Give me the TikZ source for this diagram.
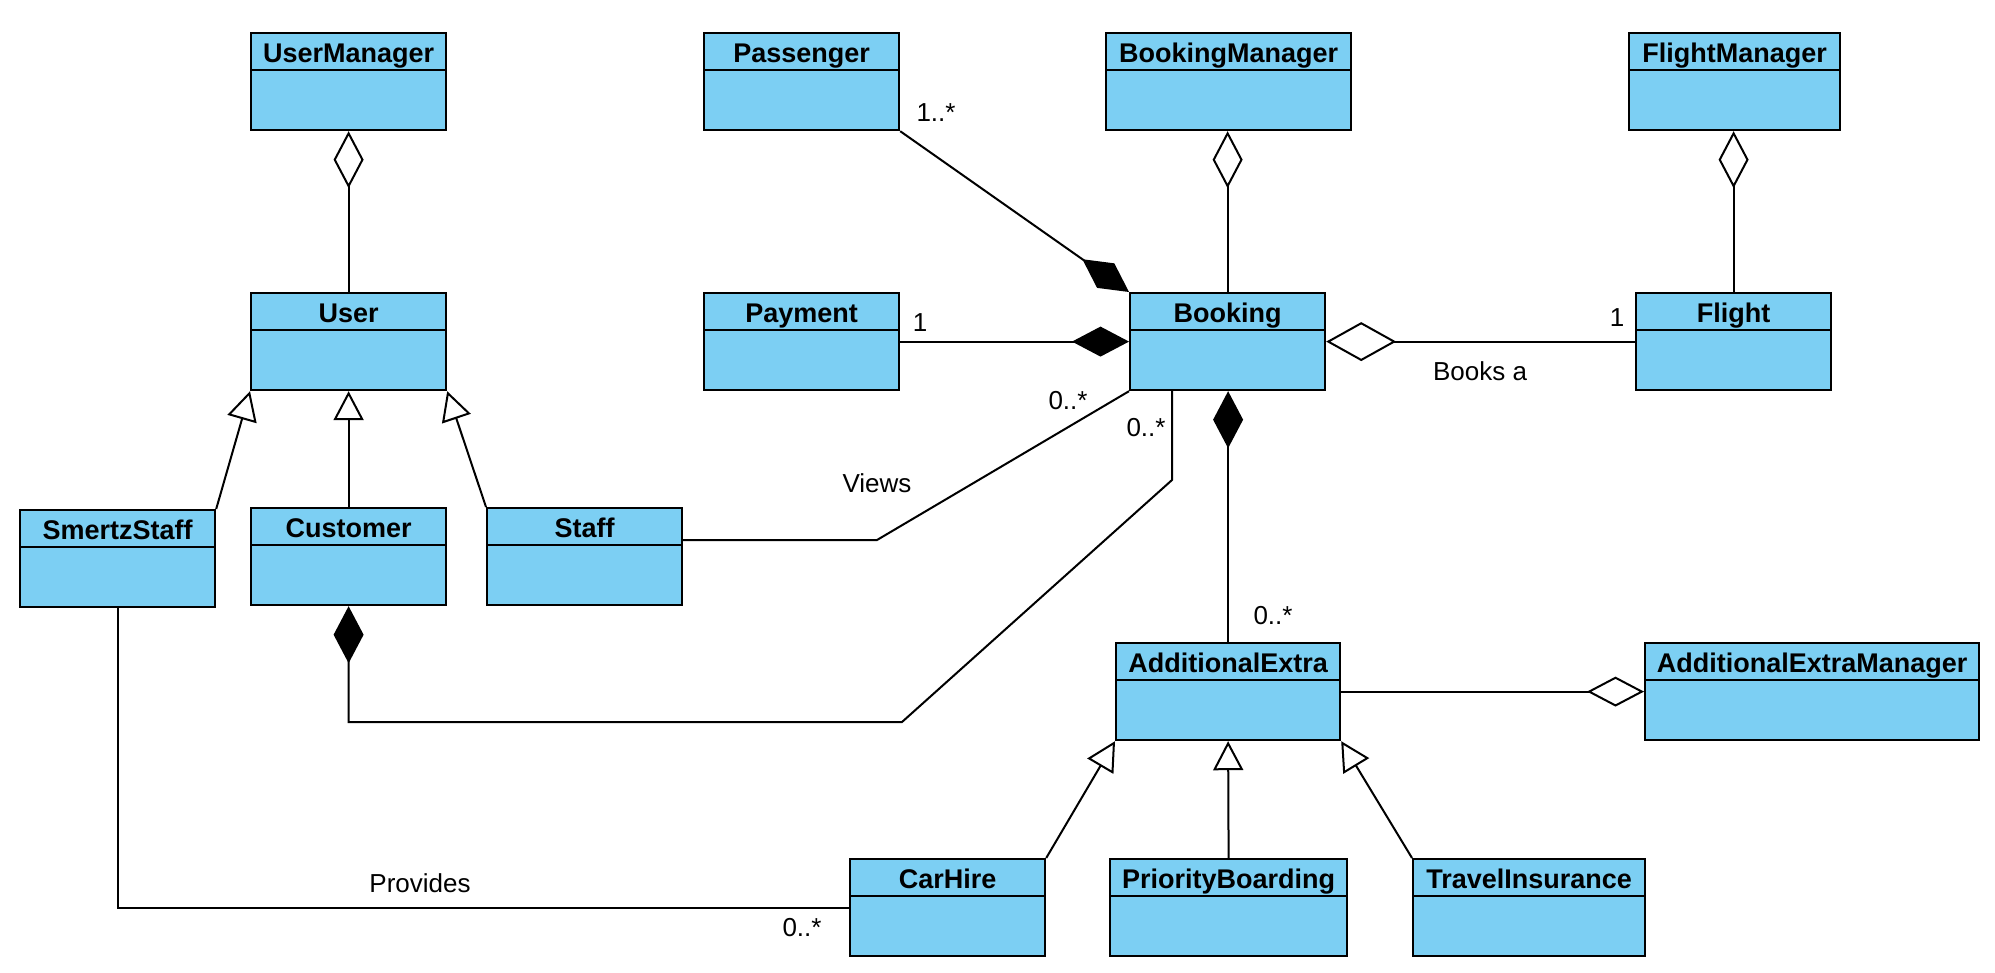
\documentclass[tikz,border=0pt]{standalone}
\usepackage{fontspec}
\setmainfont{Liberation Sans}
\usepackage{xcolor}
\usepackage{tikz}
\usetikzlibrary{arrows.meta}
\usetikzlibrary{positioning}
\definecolor{classblue}{RGB}{124,207,243}
\tikzstyle{umlclass} = [rectangle, draw=black, line width=1.1pt, fill=classblue, anchor=north west, minimum width=97.5pt, minimum height=48.5pt, inner sep=0pt, text height=14.5pt, text depth=34pt, font=\fontsize{13.5}{15}\selectfont\bfseries, path picture={\draw[line width=1.1pt] ([yshift=-18.5pt]path picture bounding box.north west) -- ([yshift=-18.5pt]path picture bounding box.north east);}]
\tikzstyle{mult} = [inner sep=0pt, font=\fontsize{13}{15}\selectfont]
\tikzstyle{link} = [line width=1pt]
\tikzstyle{aggregation} = [link, -{Diamond[fill=white, length=28.5pt, width=15pt]}]
\tikzstyle{composition} = [link, -{Diamond[length=28.5pt, width=15pt]}]
\tikzstyle{generalization} = [link, -{Triangle[fill=white, length=14.5pt, width=15pt]}]

\begin{document}
\begin{tikzpicture}[x=0.5pt, y=-0.5pt]
    \useasboundingbox (0,0) rectangle (1995,973);
    % classes
    \node[umlclass] (usermanager) at (250,32) {UserManager};
    \node[umlclass] (passenger) at (703,32) {Passenger};
    \node[umlclass, minimum width=122.5pt] (bookingmanager) at (1105,32) {BookingManager};
    \node[umlclass, minimum width=105.5pt] (flightmanager) at (1628,32) {FlightManager};
    \node[umlclass] (user) at (250,292) {User};
    \node[umlclass] (payment) at (703,292) {Payment};
    \node[umlclass] (booking) at (1129,292) {Booking};
    \node[umlclass] (flight) at (1635,292) {Flight};
    \node[umlclass] (smertzstaff) at (19,509) {SmertzStaff};
    \node[umlclass] (customer) at (250,507) {Customer};
    \node[umlclass] (staff) at (486,507) {Staff};
    \node[umlclass, minimum width=112pt] (extra) at (1115,642) {AdditionalExtra};
    \node[umlclass, minimum width=167pt] (extramanager) at (1644,642) {AdditionalExtraManager};
    \node[umlclass] (carhire) at (849,858) {CarHire};
    \node[umlclass, minimum width=118.5pt] (priority) at (1109,858) {PriorityBoarding};
    \node[umlclass, minimum width=116pt] (insurance) at (1412,858) {TravelInsurance};

    % bends
    \coordinate (viewsbend) at (877,540);
    \coordinate (custbend1) at (1172,480);
    \coordinate (custbend2) at (902,722);

    % user side
    \draw[aggregation] (user.north) -- (usermanager.south);
    \draw[generalization] (smertzstaff.north east) -- (user.south west);
    \draw[generalization] (customer.north) -- (user.south);
    \draw[generalization] (staff.north west) -- (user.south east);

    % booking side
    \draw[composition] (passenger.south east) -- (booking.north west);
    \draw[composition] (payment.east) -- (booking.west);
    \draw[aggregation] (booking.north) -- (booking.north |- bookingmanager.south);
    \draw[link, -{Diamond[fill=white, length=35pt, width=19.5pt]}] (flight.west) -- (booking.east);
    \draw[aggregation] (flight.north) -- (flight.north |- flightmanager.south);
    \draw[link] (staff.east |- viewsbend) -- (viewsbend) -- (booking.south west);
    \draw[composition] (booking.south -| custbend1) -- (custbend1) -- (custbend2) -- (custbend2 -| customer.south) -- (customer.south);
    \draw[composition] (extra.north) -- (extra.north |- booking.south);

    % extras
    \draw[aggregation] (extra.east) -- (extramanager.west);
    \draw[generalization] (carhire.north east) -- (extra.south west);
    \draw[generalization] (priority.north) -- (extra.south);
    \draw[generalization] (insurance.north west) -- (extra.south east);
    \draw[link] (smertzstaff.south) |- (carhire.west);

    % labels
    \node[mult] (passengermult) at (936,113) {1..*};
    \node[mult] (paymentmult) at (920,323) {1};
    \node[mult] (flightmult) at (1617,318) {1};
    \node[mult] (booksa) at (1480,371) {Books a};
    \node[mult] (viewsmult) at (1068,401) {0..*};
    \node[mult] (customermult) at (1146,428) {0..*};
    \node[mult] (views) at (877,483) {Views};
    \node[mult] (extramult) at (1273,616) {0..*};
    \node[mult] (provides) at (420,883) {Provides};
    \node[mult] (carhiremult) at (802,928) {0..*};
\end{tikzpicture}
\end{document}
